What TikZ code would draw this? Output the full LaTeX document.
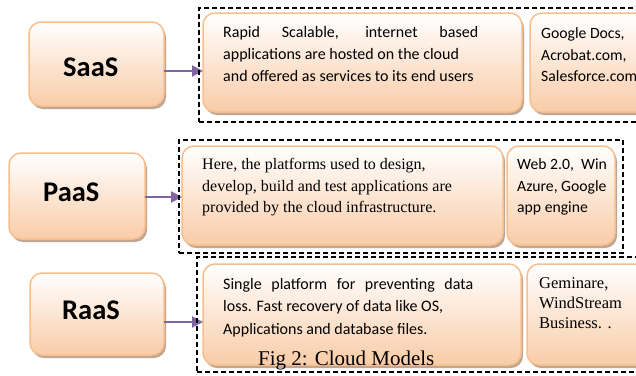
\documentclass[tikz,border=0pt]{standalone}
\usepackage{fontspec}
\setmainfont{Carlito}
\newfontfamily\timesf{Liberation Serif}
\usetikzlibrary{arrows.meta,shadows}
\definecolor{boxline}{HTML}{F8BE8C}
\definecolor{boxfill}{HTML}{F9CCA8}
\definecolor{shadec}{HTML}{B0927A}
\definecolor{arrowc}{HTML}{8064A2}
\begin{document}
\begin{tikzpicture}[x=1pt,y=-1pt,
 box/.style={draw=boxline, line width=1.5pt, rounded corners=12pt, top color=white, bottom color=boxfill, inner sep=0pt, outer sep=0pt, anchor=north west, drop shadow={shadow xshift=2pt, shadow yshift=-3pt, fill=shadec, opacity=0.8}},
 grp/.style={draw=black, line width=1.8pt, dash pattern=on 5pt off 3pt, inner sep=0pt, outer sep=0pt, anchor=north west},
 link/.style={draw=arrowc, line width=2pt, -{Triangle[length=11pt,width=11pt]}},
 lbl/.style={font=\fontsize{28.5}{30}\selectfont\bfseries, anchor=base west, inner sep=0pt},
 cal/.style={font=\fontsize{16}{18}\selectfont, anchor=base west, inner sep=0pt},
 calr/.style={font=\fontsize{15.7}{17}\selectfont, anchor=base west, inner sep=0pt},
 tim/.style={font=\timesf\fontsize{16}{18}\selectfont, anchor=base west, inner sep=0pt},
 timr/.style={font=\timesf\fontsize{16.5}{18}\selectfont, anchor=base west, inner sep=0pt},
]
\useasboundingbox (0,0) rectangle (636,375);
\clip (0,0) rectangle (636,375);
\fill[white] (0,0) rectangle (636,375);

% SaaS row
\node[box, minimum width=135pt, minimum height=84pt] (saas) at (29,22) {};
\node[box, minimum width=319pt, minimum height=99pt] (saasd) at (203,13) {};
\node[box, minimum width=130pt, minimum height=99pt] (saase) at (530,13) {};
\node[lbl] (saasl) at (63,76.5) {SaaS};
\node[cal] (sa1) at (223,37.5) {\makebox[255pt][s]{Rapid Scalable, internet based}};
\node[cal] (sa2) at (223,59.5) {applications are hosted on the cloud};
\node[cal] (sa3) at (223,81.5) {and offered as services to its end users};
\node[calr] (se1) at (541,38) {Google Docs,};
\node[calr] (se2) at (541,60) {Acrobat.com,};
\node[calr] (se3) at (541,81.5) {Salesforce.com};
\draw[link] (saas.east |- 0,71) -- (saasd.west |- 0,71);
\node[grp, minimum width=460pt, minimum height=114pt] (g1) at (199,8) {};

% PaaS row
\node[box, minimum width=136pt, minimum height=86pt] (paas) at (9,153) {};
\node[box, minimum width=321pt, minimum height=99pt] (paasd) at (182,146) {};
\node[box, minimum width=108pt, minimum height=99pt] (paase) at (507,146) {};
\node[lbl] (paasl) at (43,201) {PaaS};
\node[tim] (pa1) at (202,169.5) {Here, the platforms used to design,};
\node[tim] (pa2) at (202,191) {develop, build and test applications are};
\node[tim] (pa3) at (202,212.5) {provided by the cloud infrastructure.};
\node[calr] (pe1) at (517,169.5) {Web 2.0,~ Win};
\node[calr] (pe2) at (517,191) {Azure, Google};
\node[calr] (pe3) at (517,212.5) {app engine};
\draw[link] (paas.east |- 0,197) -- (paasd.west |- 0,197);
\node[grp, minimum width=444pt, minimum height=113pt] (g2) at (179,140) {};

% RaaS row
\node[box, minimum width=134pt, minimum height=82pt] (raas) at (30,273) {};
\node[box, minimum width=318pt, minimum height=101pt] (raasd) at (203,264) {};
\node[box, minimum width=130pt, minimum height=101pt] (raase) at (527,264) {};
\node[lbl] (raasl) at (62,319) {RaaS};
\node[cal] (ra1) at (223,289.5) {\makebox[250pt][s]{Single platform for preventing data}};
\node[cal] (ra2) at (223,311.5) {loss. Fast recovery of data like OS,};
\node[cal] (ra3) at (223,334) {Applications and database files.};
\node[timr] (re1) at (539,288) {Geminare,};
\node[timr] (re2) at (539,308) {WindStream};
\node[timr] (re3) at (539,328) {Business. .};
\draw[link] (raas.east |- 0,322) -- (raasd.west |- 0,322);
\node[grp, minimum width=460pt, minimum height=115pt] (g3) at (197,257) {};

\node[font=\timesf\fontsize{21}{24}\selectfont, anchor=base west, inner sep=0pt] (cap) at (258,365) {Fig 2: Cloud Models};
\end{tikzpicture}
\end{document}
